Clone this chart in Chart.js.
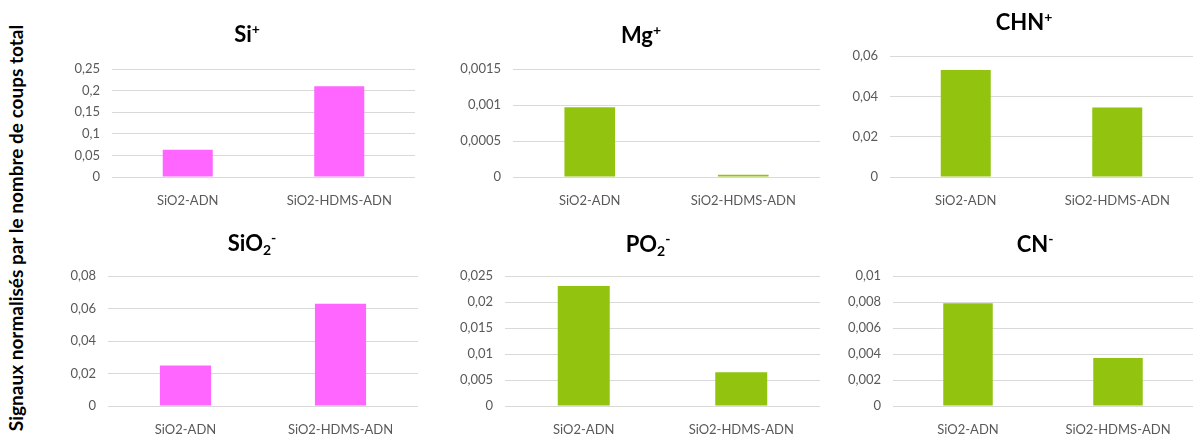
<!DOCTYPE html>
<html lang="fr">
<head>
<meta charset="UTF-8">
<title>Signaux normalisés</title>
<script src="https://cdn.jsdelivr.net/npm/chart.js"></script>
<style>
  html, body { margin: 0; padding: 0; background: #fff; }
  body { width: 1203px; height: 437px; position: relative; overflow: hidden; font-family: Lato, sans-serif; }
  canvas { position: absolute; }
  #ylab {
    position: absolute; left: 15px; top: 228px; width: 460px;
    transform: translate(-50%, -50%) rotate(-90deg);
    text-align: center; white-space: nowrap;
    font: bold 19px Lato, sans-serif; color: #000;
  }
</style>
</head>
<body>
<div id="ylab">Signaux normalisés par le nombre de coups total</div>
<canvas id="c1"></canvas>
<canvas id="c2"></canvas>
<canvas id="c3"></canvas>
<canvas id="c4"></canvas>
<canvas id="c5"></canvas>
<canvas id="c6"></canvas>

<script>
  const categories = ['SiO2-ADN', 'SiO2-HDMS-ADN'];

  // values
  const siPlus = [0.063, 0.21];
  const mgPlus = [0.00097, 0.00003];
  const chnPlus = [0.053, 0.0345];
  const sio2Minus = [0.025, 0.063];
  const po2Minus = [0.0231, 0.0065];
  const cnMinus = [0.0079, 0.0037];

  // axis max / step per panel
  const axisMax = [0.25, 0.0015, 0.06, 0.08, 0.025, 0.01];
  const axisStep = [0.05, 0.0005, 0.02, 0.02, 0.005, 0.002];

  const PINK = '#FF66FF';
  const GREEN = '#92C30F';
  const AXIS_W = 60;
  const X_H = 32;

  // title parts: [text, kind]
  const panels = [
    { id: 'c1', title: [['Si'], ['+', 'sup']], data: siPlus, color: PINK,
      gl: 112, gr: 415, top: 69, bottom: 177, row: 0, tx: 247, ty: 35 },
    { id: 'c2', title: [['Mg'], ['+', 'sup']], data: mgPlus, color: GREEN,
      gl: 513, gr: 820, top: 69, bottom: 177, row: 0, tx: 641, ty: 36 },
    { id: 'c3', title: [['CHN'], ['+', 'sup']], data: chnPlus, color: GREEN,
      gl: 890, gr: 1193, top: 56, bottom: 177, row: 0, tx: 1024, ty: 23 },
    { id: 'c4', title: [['SiO'], ['2', 'sub'], ['-', 'sup']], data: sio2Minus, color: PINK,
      gl: 108, gr: 418, top: 276, bottom: 406, row: 220, tx: 252, ty: 244 },
    { id: 'c5', title: [['PO'], ['2', 'sub'], ['-', 'sup']], data: po2Minus, color: GREEN,
      gl: 505, gr: 820, top: 276, bottom: 406, row: 220, tx: 648, ty: 245 },
    { id: 'c6', title: [['CN'], ['-', 'sup']], data: cnMinus, color: GREEN,
      gl: 893, gr: 1193, top: 276, bottom: 406, row: 220, tx: 1035, ty: 245 }
  ];

  const fmt = v => String(Number(v.toPrecision(8))).replace('.', ',');

  const richTitle = {
    id: 'richTitle',
    afterDraw(chart, args, opts) {
      const c = chart.ctx;
      const big = 'bold 22px Lato, sans-serif';
      const small = 'bold 14px Lato, sans-serif';
      let total = 0;
      opts.parts.forEach(p => {
        c.font = p[1] ? small : big;
        total += c.measureText(p[0]).width;
      });
      let x = opts.x - total / 2;
      c.save();
      c.fillStyle = '#000';
      c.textBaseline = 'middle';
      c.textAlign = 'left';
      opts.parts.forEach(p => {
        c.font = p[1] ? small : big;
        let dy = 0;
        if (p[1] === 'sup') dy = -6;
        if (p[1] === 'sub') dy = 6;
        c.fillText(p[0], x, opts.y + dy);
        x += c.measureText(p[0]).width;
      });
      c.restore();
    }
  };

  panels.forEach((p, i) => {
    const el = document.getElementById(p.id);
    const left = p.gl - AXIS_W;
    const w = p.gr - left + 1;
    const h = p.bottom - p.row + X_H;
    el.style.left = left + 'px';
    el.style.top = p.row + 'px';
    el.style.width = w + 'px';
    el.style.height = h + 'px';

    new Chart(el, {
      type: 'bar',
      data: {
        labels: categories,
        datasets: [{
          data: p.data,
          backgroundColor: p.color,
          borderWidth: 0,
          barPercentage: 1,
          categoryPercentage: 0.33
        }]
      },
      options: {
        responsive: false,
        maintainAspectRatio: false,
        animation: false,
        layout: { padding: { top: p.top - p.row, left: 0, right: 1, bottom: 0 } },
        plugins: {
          legend: { display: false },
          tooltip: { enabled: false },
          title: { display: false },
          richTitle: { parts: p.title, x: p.tx - left, y: p.ty - p.row }
        },
        scales: {
          x: {
            grid: { display: false },
            border: { display: false },
            ticks: { color: '#595959', font: { family: 'Lato', size: 13 }, padding: 8, maxRotation: 0 },
            afterFit: s => { s.height = X_H; }
          },
          y: {
            min: 0,
            max: axisMax[i],
            grid: { color: '#D9D9D9', lineWidth: 1, drawTicks: false },
            border: { display: false },
            ticks: {
              stepSize: axisStep[i],
              color: '#595959',
              font: { family: 'Lato', size: 13 },
              padding: 12,
              callback: v => fmt(v)
            },
            afterFit: s => { s.width = AXIS_W; }
          }
        }
      },
      plugins: [richTitle]
    });
  });
</script>
</body>
</html>
